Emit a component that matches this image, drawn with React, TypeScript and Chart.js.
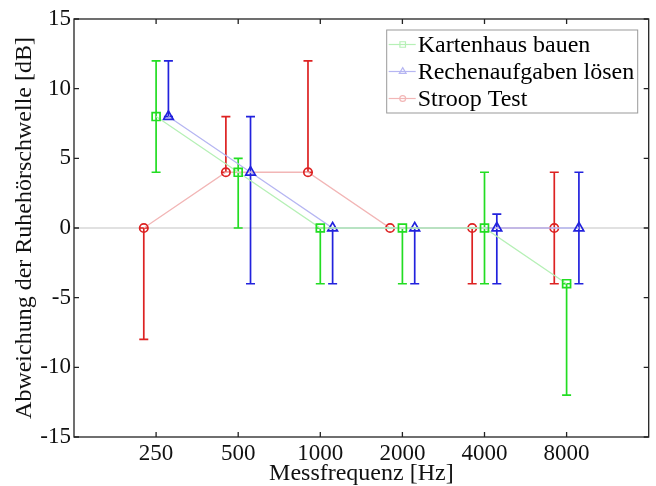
import React, { useEffect, useRef } from 'react';
import { Chart, registerables } from 'chart.js';

Chart.register(...registerables);

// ---- data ----
const categories = ['250', '500', '1000', '2000', '4000', '8000'];
const seriesNames = ['Kartenhaus bauen', 'Rechenaufgaben lösen', 'Stroop Test'];
const kartenhausMean = [8, 4, 0, 0, 0, -4];
const kartenhausLow = [4, 0, -4, -4, -4, -12];
const kartenhausHigh = [12, 5, 0, 0, 4, -4];
const rechenMean = [8, 4, 0, 0, 0, 0];
const rechenLow = [8, -4, -4, -4, -4, -4];
const rechenHigh = [12, 8, 0, 0, 1, 4];
const stroopMean = [0, 4, 4, 0, 0, 0];
const stroopLow = [-8, 4, 4, 0, -4, -4];
const stroopHigh = [0, 8, 12, 0, 0, 4];
const yTicks = [-15, -10, -5, 0, 5, 10, 15];
const xTitle = 'Messfrequenz [Hz]';
const yTitle = 'Abweichung der Ruhehörschwelle [dB]';

// ---- styles ----
const FONT = '"Liberation Serif", "Times New Roman", serif';
const FS_TICK = 23;
const FS = 24;

const series = [
  { name: seriesNames[0], mean: kartenhausMean, low: kartenhausLow, high: kartenhausHigh, offset: 0, color: '#22dd22', light: '#b6f0b6', style: 'rect', radius: 5.6 },
  { name: seriesNames[1], mean: rechenMean, low: rechenLow, high: rechenHigh, offset: 0.15, color: '#2222dd', light: '#b6b6f2', style: 'triangle', radius: 5.6 },
  { name: seriesNames[2], mean: stroopMean, low: stroopLow, high: stroopHigh, offset: -0.15, color: '#dd2222', light: '#f2b6b6', style: 'circle', radius: 4.2 },
];

function drawMarker(ctx: CanvasRenderingContext2D, style: string, x: number, y: number, r: number) {
  ctx.beginPath();
  if (style === 'rect') {
    const s = r * Math.SQRT1_2;
    ctx.rect(x - s, y - s, 2 * s, 2 * s);
  } else if (style === 'triangle') {
    ctx.moveTo(x, y - r);
    ctx.lineTo(x + r * Math.sin((2 * Math.PI) / 3), y - r * Math.cos((2 * Math.PI) / 3));
    ctx.lineTo(x + r * Math.sin((4 * Math.PI) / 3), y - r * Math.cos((4 * Math.PI) / 3));
    ctx.closePath();
  } else {
    ctx.arc(x, y, r, 0, Math.PI * 2);
  }
  ctx.stroke();
}

const errorBarPlugin = {
  id: 'errorBars',
  beforeDatasetsDraw(chart: any) {
    const { ctx, chartArea, scales } = chart;
    const xs = scales.x;
    const ys = scales.y;
    ctx.save();
    // zero line
    ctx.strokeStyle = '#c4c4c4';
    ctx.lineWidth = 1.2;
    ctx.beginPath();
    const y0 = ys.getPixelForValue(0);
    ctx.moveTo(chartArea.left, y0);
    ctx.lineTo(chartArea.right, y0);
    ctx.stroke();
    // error bars
    series.forEach((s) => {
      ctx.strokeStyle = s.color;
      ctx.lineWidth = 1.7;
      s.mean.forEach((_, i) => {
        const px = xs.getPixelForValue(i + 1 + s.offset);
        const pl = ys.getPixelForValue(s.low[i]);
        const ph = ys.getPixelForValue(s.high[i]);
        if (Math.abs(pl - ph) < 0.5) return;
        ctx.beginPath();
        ctx.moveTo(px, pl);
        ctx.lineTo(px, ph);
        ctx.moveTo(px - 4.5, pl);
        ctx.lineTo(px + 4.5, pl);
        ctx.moveTo(px - 4.5, ph);
        ctx.lineTo(px + 4.5, ph);
        ctx.stroke();
      });
    });
    ctx.restore();
  },
};

const framePlugin = {
  id: 'frameAndLegend',
  afterDraw(chart: any) {
    const { ctx, chartArea, scales } = chart;
    const { left, right, top, bottom } = chartArea;
    ctx.save();
    ctx.strokeStyle = '#222';
    ctx.lineWidth = 1.3;
    ctx.strokeRect(left, top, right - left, bottom - top);
    const tl = 5;
    ctx.beginPath();
    categories.forEach((_, i) => {
      const px = scales.x.getPixelForValue(i + 1);
      ctx.moveTo(px, bottom);
      ctx.lineTo(px, bottom - tl);
      ctx.moveTo(px, top);
      ctx.lineTo(px, top + tl);
    });
    yTicks.forEach((v) => {
      const py = scales.y.getPixelForValue(v);
      ctx.moveTo(left, py);
      ctx.lineTo(left + tl, py);
      ctx.moveTo(right, py);
      ctx.lineTo(right - tl, py);
    });
    ctx.stroke();

    // legend
    const bw = 251;
    const bh = 83;
    const bx = right - 11 - bw;
    const by = top + 11;
    ctx.fillStyle = '#fff';
    ctx.fillRect(bx, by, bw, bh);
    ctx.strokeStyle = '#999';
    ctx.lineWidth = 1;
    ctx.strokeRect(bx, by, bw, bh);
    ctx.font = `${FS}px ${FONT}`;
    ctx.textBaseline = 'alphabetic';
    ctx.textAlign = 'left';
    series.forEach((s, i) => {
      const base = by + 22 + i * 27;
      const cy = base - 7.5;
      ctx.strokeStyle = s.light;
      ctx.lineWidth = 1.2;
      ctx.beginPath();
      ctx.moveTo(bx + 2, cy);
      ctx.lineTo(bx + 29, cy);
      ctx.stroke();
      drawMarker(ctx, s.style, bx + 16, cy, s.radius * 0.7);
      ctx.fillStyle = '#000';
      ctx.fillText(s.name, bx + 31, base);
    });
    ctx.restore();
  },
};

export default function App() {
  const ref = useRef<HTMLCanvasElement | null>(null);
  useEffect(() => {
    if (!ref.current) return;
    const chart = new Chart(ref.current, {
      type: 'line',
      data: {
        datasets: series.map((s) => ({
          label: s.name,
          data: s.mean.map((v, i) => ({ x: i + 1 + s.offset, y: v })),
          borderColor: s.light,
          borderWidth: 1.3,
          pointStyle: s.style as any,
          pointRadius: s.radius,
          pointBorderColor: s.color,
          pointBackgroundColor: 'rgba(0,0,0,0)',
          pointBorderWidth: 1.7,
          tension: 0,
          fill: false,
        })),
      },
      options: {
        animation: false,
        responsive: false,
        layout: { padding: { top: 19, right: 6, left: 0, bottom: 0 } },
        plugins: { legend: { display: false }, tooltip: { enabled: false } },
        scales: {
          x: {
            type: 'linear',
            min: 0,
            max: 7,
            grid: { display: false, drawTicks: false },
            border: { display: false },
            afterBuildTicks: (scale: any) => {
              scale.ticks = categories.map((_, i) => ({ value: i + 1 }));
            },
            afterFit: (scale: any) => {
              scale.height = 49;
            },
            ticks: {
              autoSkip: false,
              maxRotation: 0,
              padding: 3,
              color: '#111',
              font: { family: FONT, size: FS_TICK },
              callback: (v: any) => categories[Number(v) - 1] ?? '',
            },
            title: {
              display: true,
              text: xTitle,
              color: '#111',
              font: { family: FONT, size: FS },
              padding: { top: 0, bottom: -2 },
            },
          },
          y: {
            type: 'linear',
            min: -15,
            max: 15,
            grid: { display: false, drawTicks: false },
            border: { display: false },
            afterBuildTicks: (scale: any) => {
              scale.ticks = yTicks.map((v) => ({ value: v }));
            },
            afterFit: (scale: any) => {
              scale.width = 74;
            },
            ticks: {
              padding: 3,
              color: '#111',
              font: { family: FONT, size: FS_TICK },
            },
            title: {
              display: true,
              text: yTitle,
              color: '#111',
              font: { family: FONT, size: FS },
              padding: { top: 10, bottom: 0 },
            },
          },
        },
      },
      plugins: [errorBarPlugin, framePlugin],
    });
    return () => chart.destroy();
  }, []);
  return (
    <div style={{ position: 'absolute', left: 0, top: 0, width: 656, height: 486, background: '#fff' }}>
      <canvas ref={ref} width={656} height={486} style={{ display: 'block' }} />
    </div>
  );
}
